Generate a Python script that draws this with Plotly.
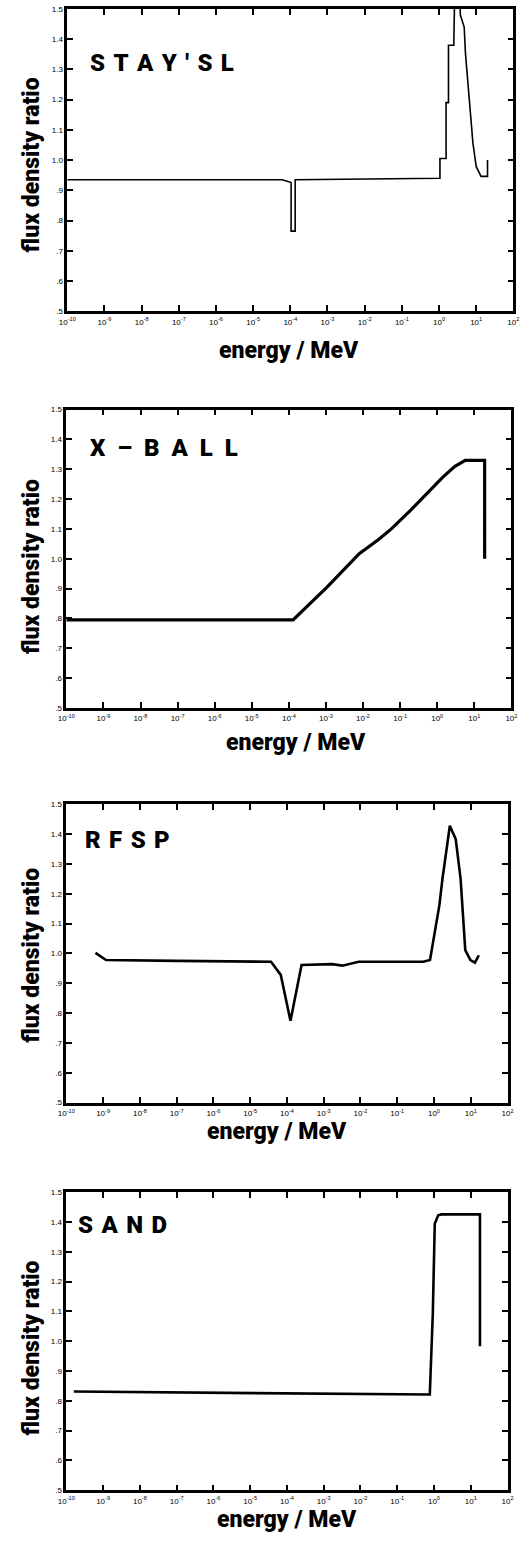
import plotly.graph_objects as go

# ---- data: flux density ratio vs neutron energy (MeV) ----
stay_energy = [1e-10, 6e-5, 1.0e-4, 1.05e-4, 1.05e-4, 1.35e-4, 1.35e-4, 1e-3, 0.1,
               1.06, 1.06, 1.55, 1.55, 1.8, 1.8, 2.5, 2.7, 3.55, 3.75,
               4.76, 5.16, 6.06, 7.11, 8.18, 10.0, 13.5, 20.2, 20.2]
stay_ratio = [0.935, 0.935, 0.927, 0.925, 0.765, 0.765, 0.935, 0.936, 0.938,
              0.94, 1.005, 1.005, 1.19, 1.19, 1.38, 1.38, 1.62, 1.62, 1.48,
              1.44, 1.352, 1.242, 1.133, 1.056, 0.979, 0.946, 0.946, 1.0]

xball_energy = [1e-10, 1.3e-4, 1.07e-3, 7.9e-3, 0.0257, 0.058, 0.19, 0.43,
                1.4, 3.0, 5.7, 19.0, 19.0]
xball_ratio = [0.795, 0.795, 0.905, 1.017, 1.064, 1.10, 1.162, 1.207,
               1.273, 1.31, 1.33, 1.33, 1.0]

rfsp_energy = [6.2e-10, 1.2e-9, 1e-7, 3.7e-5, 6.8e-5, 1.25e-4, 2.5e-4, 1.7e-3,
               3.2e-3, 8.9e-3, 0.51, 0.78, 1.4, 1.7, 2.7, 3.9, 5.3, 7.1, 9.8,
               13.0, 16.6]
rfsp_ratio = [1.002, 0.978, 0.975, 0.972, 0.928, 0.774, 0.961, 0.964,
              0.959, 0.972, 0.972, 0.978, 1.161, 1.25, 1.428, 1.383, 1.25,
              1.011, 0.978, 0.969, 0.994]

sand_energy = [1.6e-10, 1e-5, 0.77, 0.93, 1.05, 1.3, 1.6, 17.8, 17.8]
sand_ratio = [0.831, 0.826, 0.821, 1.094, 1.394, 1.422, 1.425, 1.425, 0.983]


def spaced(chars, gap):
    return gap.join(chars)


NB, HAIR = "\u00a0", "\u200a"
panel_names = [spaced("STAY'SL", NB + HAIR),
               spaced("X–BALL", NB * 2),
               spaced("RFSP", NB + HAIR),
               spaced("SAND", NB + HAIR)]
x_tick_exponents = list(range(-10, 3))
y_tick_values = [0.5, 0.6, 0.7, 0.8, 0.9, 1.0, 1.1, 1.2, 1.3, 1.4, 1.5]
y_tick_labels = [".5", ".6", ".7", ".8", ".9", "1.0", "1.1", "1.2", "1.3", "1.4", "1.5"]

series = [(stay_energy, stay_ratio, 1.6),
          (xball_energy, xball_ratio, 3.2),
          (rfsp_energy, rfsp_ratio, 2.6),
          (sand_energy, sand_ratio, 2.6)]

# ---- page geometry (pixels) ----
W, H = 531, 1545
boxes = [(60, 519, 5, 309), (59, 517, 408, 708), (59, 513, 805, 1105), (59, 513, 1195, 1495)]
xtitle_pos = [(288, 349), (295, 743), (276, 1134), (286, 1524)]
ytitle_pos = [(23, 162), (23, 566), (23, 957), (23, 1352)]
name_pos = [(81, 59), (81, 447), (76, 841), (69, 1228)]

FONT = "Liberation Sans"
HEAVY = "Roboto, Liberation Sans"
fig = go.Figure()
annotations = []

for i, ((ex, ry, lw), (x0, x1, y0, y1)) in enumerate(zip(series, boxes)):
    n = "" if i == 0 else str(i + 1)
    fig.add_trace(go.Scatter(x=ex, y=ry, mode="lines",
                             line=dict(color="black", width=lw),
                             xaxis="x" + n, yaxis="y" + n, showlegend=False))
    axis_common = dict(showline=True, linecolor="black", linewidth=2.5, mirror="ticks",
                       ticks="inside", ticklen=6, tickwidth=2, tickcolor="black",
                       showgrid=False, zeroline=False,
                       tickfont=dict(family=FONT, size=8, color="black"))
    fig.layout["xaxis" + n] = dict(
        type="log", range=[-10, 2], domain=[x0 / W, x1 / W], anchor="y" + n,
        tickvals=[10.0 ** k for k in x_tick_exponents],
        ticktext=["10<sup>%d</sup>" % k for k in x_tick_exponents],
        ticklabelstandoff=1,
        **axis_common)
    fig.layout["yaxis" + n] = dict(
        range=[0.5, 1.5], domain=[1 - y1 / H, 1 - y0 / H], anchor="x" + n,
        tickvals=y_tick_values, ticktext=y_tick_labels, **axis_common)

    tx, ty = xtitle_pos[i]
    annotations.append(dict(text="energy / MeV", x=tx / W, y=1 - ty / H,
                            xref="paper", yref="paper", showarrow=False,
                            xanchor="center", yanchor="middle",
                            font=dict(family=HEAVY, size=23, color="black", weight=900)))
    yx, yy = ytitle_pos[i]
    annotations.append(dict(text="flux density ratio", x=yx / W, y=1 - yy / H,
                            xref="paper", yref="paper", showarrow=False, textangle=-90,
                            xanchor="center", yanchor="middle",
                            font=dict(family=HEAVY, size=23, color="black", weight=900)))
    nx, ny = name_pos[i]
    annotations.append(dict(text=panel_names[i], x=nx / W, y=1 - ny / H,
                            xref="paper", yref="paper", showarrow=False,
                            xanchor="left", yanchor="middle",
                            font=dict(family=HEAVY, size=24, color="black", weight=900)))

fig.update_layout(width=W, height=H, margin=dict(l=0, r=0, t=0, b=0),
                  paper_bgcolor="white", plot_bgcolor="white",
                  annotations=annotations)

fig.write_html("out.html")
